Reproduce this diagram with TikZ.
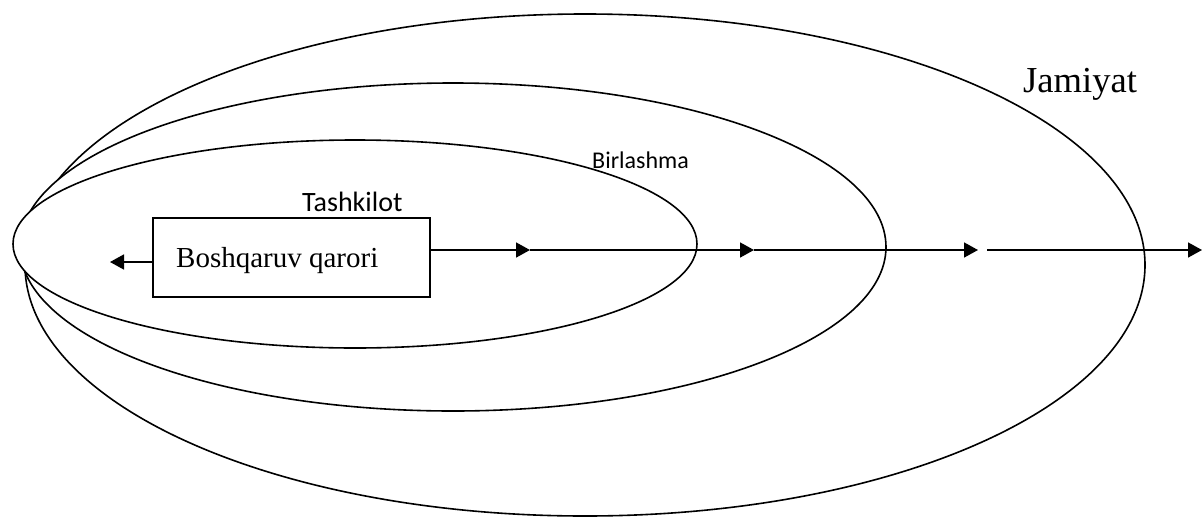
\documentclass[tikz,border=0pt]{standalone}
\usepackage{fontspec}
\setmainfont{Liberation Serif}
\newfontfamily\calib{Carlito}
\usetikzlibrary{shapes.geometric,arrows.meta}
\begin{document}
\begin{tikzpicture}[x=1pt,y=-1pt,
  ring/.style={ellipse,draw,fill=white,line width=1.6pt,inner sep=0pt},
  frame/.style={draw,line width=1.6pt,inner sep=0pt},
  flow/.style={line width=1.6pt,-{Triangle[length=14pt,width=15pt]}},
  serif/.style={inner sep=0pt,anchor=base west},
  sans/.style={inner sep=0pt,anchor=base west,font=\calib}]
\useasboundingbox (0,0) rectangle (1202,517);

% nested spheres: society, association, organisation
\node[ring,minimum width=1120pt,minimum height=502pt] (jam) at (585,265) {};
\node[ring,minimum width=866pt,minimum height=328pt] (bir) at (453,247) {};
\node[ring,minimum width=684pt,minimum height=208pt] (tash) at (355,244) {};

% labels
\node[serif,font=\fontsize{36.6pt}{40pt}\selectfont] (ljam) at (1023,92) {Jamiyat};
\node[sans,font=\calib\fontsize{24pt}{28pt}\selectfont] (lbir) at (592,168) {Birlashma};
\node[sans,font=\calib\fontsize{28pt}{32pt}\selectfont] (ltash) at (302,211) {Tashkilot};

% decision box
\node[frame,minimum width=277pt,minimum height=79pt] (box) at (291.5,257.5) {};
\node[serif,font=\fontsize{29pt}{32pt}\selectfont] (boxtext) at (176,267) {Boshqaruv qarori};

% arrow tips
\coordinate (t0) at (110,262);
\coordinate (t1) at (530,250);
\coordinate (t2) at (754,250);
\coordinate (t3) at (978,250);
\coordinate (s4) at (987,250);
\coordinate (t4) at (1202,250);

\draw[flow] (box.west |- t0) -- (t0);
\draw[flow] (box.east |- t1) -- (t1);
\draw[flow] (t1) -- (t2);
\draw[flow] (t2) -- (t3);
\draw[flow] (s4) -- (t4);
\end{tikzpicture}
\end{document}
